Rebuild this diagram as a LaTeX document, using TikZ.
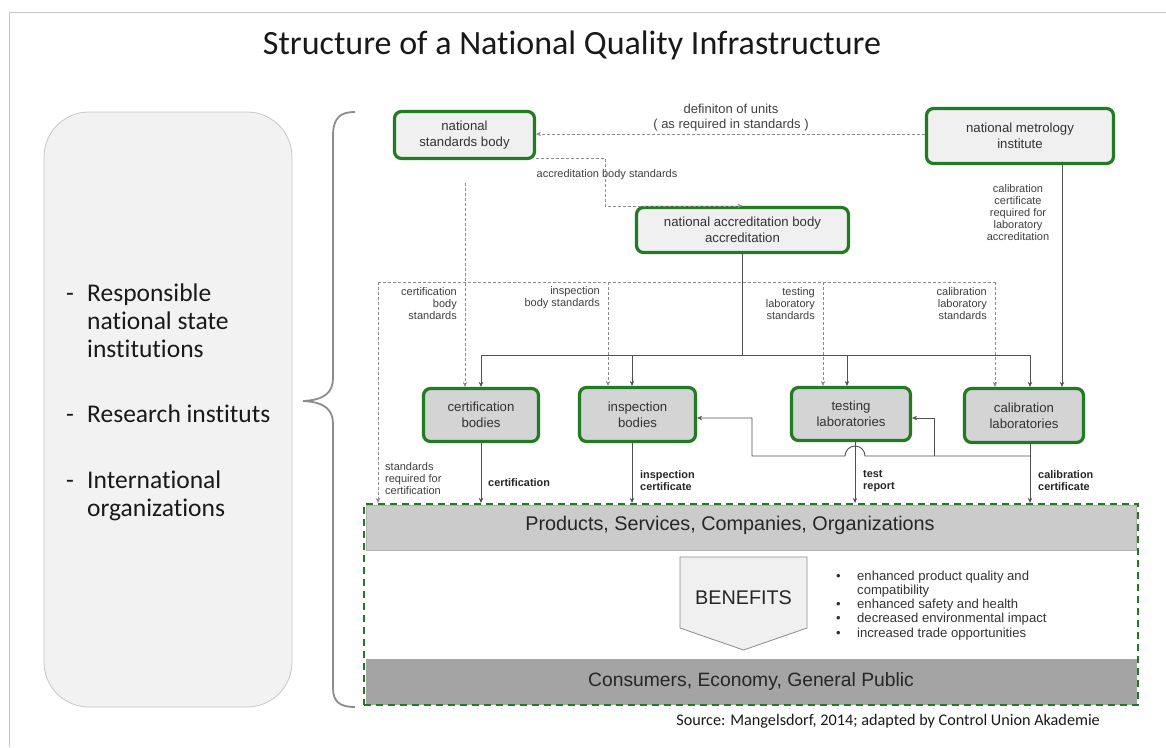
\documentclass[tikz,border=0pt]{standalone}
\usepackage{fontspec}
\setmainfont{Liberation Sans}
\newfontfamily\carl[Ligatures=NoCommon]{Carlito}
\usetikzlibrary{arrows.meta,calc}
\definecolor{qgreen}{RGB}{34,122,34}
\definecolor{lightfill}{RGB}{240,240,240}
\definecolor{darkfill}{RGB}{212,212,212}
\definecolor{bandA}{RGB}{203,203,203}
\definecolor{bandB}{RGB}{164,164,164}
\definecolor{lineg}{RGB}{80,80,80}
\definecolor{dashg}{RGB}{140,140,140}
\begin{document}
\begin{tikzpicture}[x=1pt,y=-1pt,
 inst/.style={draw=qgreen, line width=3.2pt, rounded corners=7pt, align=center, font=\fontsize{13.2}{16}\selectfont, text=black!80, inner sep=0pt},
 topbox/.style={inst, fill=lightfill},
 lowbox/.style={inst, fill=darkfill},
 sline/.style={draw=lineg, line width=0.9pt},
 dline/.style={draw=dashg, line width=0.8pt, dash pattern=on 3pt off 2pt},
 tip/.style={-{Stealth[length=5pt,width=4.5pt]}},
 small/.style={font=\fontsize{11}{12}\selectfont, text=black!75, inner sep=0pt},
 smallb/.style={font=\bfseries\fontsize{10.9}{12}\selectfont, text=black!85, inner sep=0pt, align=left, anchor=west},
 lefttxt/.style={font=\carl\fontsize{25.5}{28}\selectfont, align=left, anchor=west, inner sep=0pt, text=black!90},
]
\useasboundingbox (0,0) rectangle (1166,747);
\fill[white] (0,0) rectangle (1166,747);
% frame
\draw[black!22, line width=1pt] (9,747) -- (9,12) -- (1166,12);

% title
\node[font=\carl\fontsize{34}{38}\selectfont, text=black!90] (title) at (572,45) {Structure of a National Quality Infrastructure};

% left panel
\node[draw=black!22, fill=black!5, rounded corners=45pt, minimum width=248pt, minimum height=595pt, line width=0.8pt] (panel) at (168,409.5) {};
\node[lefttxt] (l1) at (66,321) {\makebox[21pt][l]{-}Responsible\\\hspace*{21pt}national state\\\hspace*{21pt}institutions};
\node[lefttxt] (l2) at (66,414) {\makebox[21pt][l]{-}Research instituts};
\node[lefttxt] (l3) at (66,496) {\makebox[21pt][l]{-}International\\\hspace*{21pt}organizations};

% brace
\draw[black!45, line width=1.8pt] (355,112) .. controls (340,112) and (333,118) .. (333,136) -- (333,378) .. controls (333,392) and (325,400) .. (303,401) .. controls (325,402) and (333,410) .. (333,424) -- (333,688) .. controls (333,702) and (340,707) .. (355,707);

% institution nodes
\node[topbox, minimum width=140pt, minimum height=47pt] (nsb) at (464.5,135) {national\\standards body};
\node[topbox, minimum width=187pt, minimum height=55pt] (nmi) at (1020,136) {national metrology\\institute};
\node[topbox, minimum width=212pt, minimum height=45pt] (nab) at (742.5,230) {national accreditation body\\accreditation};
\node[lowbox, minimum width=115pt, minimum height=53pt] (cb) at (481,415) {certification\\bodies};
\node[lowbox, minimum width=116pt, minimum height=54pt] (ib) at (637.5,414.5) {inspection\\bodies};
\node[lowbox, minimum width=119pt, minimum height=53pt] (tl) at (851,414) {testing\\laboratories};
\node[lowbox, minimum width=119pt, minimum height=54pt] (cl) at (1024,415.5) {calibration\\laboratories};

% bottom area
\node[fill=bandA, draw=black!30, line width=0.5pt, minimum width=770pt, minimum height=45pt, inner sep=0pt] (prod) at (751,527.5) {};
\node[font=\fontsize{19.8}{22}\selectfont, text=black!85] (prodtxt) at (730,525) {Products, Services, Companies, Organizations};
\node[fill=bandB, draw=black!35, line width=0.5pt, minimum width=770pt, minimum height=45pt, inner sep=0pt, font=\fontsize{19.3}{22}\selectfont, text=black!85] (cons) at (751,681.5) {Consumers, Economy, General Public};
\draw[draw=black!45, fill=lightfill, line width=0.8pt] (680,557) -- (807,557) -- (807,628) -- (743.5,650) -- (680,628) -- cycle;
\node[font=\fontsize{19.8}{22}\selectfont, text=black!85] (ben) at (743.5,598) {BENEFITS};
\node[font=\fontsize{13.1}{14.2}\selectfont, align=left, anchor=north west, inner sep=0pt, text=black!80] (bul) at (836,570.5) {\makebox[21pt][l]{\textbullet}enhanced product quality and\\\hspace*{21pt}compatibility\\\makebox[21pt][l]{\textbullet}enhanced safety and health\\\makebox[21pt][l]{\textbullet}decreased environmental impact\\\makebox[21pt][l]{\textbullet}increased trade opportunities};
\node[draw=qgreen, line width=2.2pt, dash pattern=on 7pt off 5pt, minimum width=774pt, minimum height=201pt, inner sep=0pt] (frame) at (751,604.5) {};

% source
\node[font=\carl\fontsize{16.2}{18}\selectfont, anchor=east, inner sep=0pt, text=black!90] (src) at (1100,721) {Source: Mangelsdorf, 2014; adapted by Control Union Akademie};

% definition of units
\coordinate (u0) at ([yshift=2pt]nmi.west);
\draw[dline,tip] (u0) -- (u0 -| nsb.east);
\node[small, align=center, font=\fontsize{13}{15}\selectfont] (unitslbl) at (731,117.5) {definiton of units\\( as required in standards )};

% accreditation body standards
\coordinate (a0) at ([yshift=2pt]nsb.south east);
\coordinate (a1) at (605,190);
\draw[dline,tip] (a0) -| (a1) |- (nab.north);
\node[small] (ablbl) at (607,175) {accreditation body standards};

% dashed standards grid
\coordinate (dl) at (378,282);
\coordinate (dr) at (995,282);
\coordinate (s1) at (465,183);
\coordinate (d2) at (608,282);
\coordinate (d3) at (823,282);
\draw[dline] (dl) -- (dr);
\draw[dline,tip] (dl) -- (dl |- frame.north);
\draw[dline,tip] (s1) -- (s1 |- cb.north);
\draw[dline,tip] (d2) -- (d2 |- ib.north);
\draw[dline,tip] (d3) -- (d3 |- tl.north);
\draw[dline,tip] (dr) -- (dr |- cl.north);
\node[small, align=right, anchor=east] (cbs) at (457,304) {certification\\body\\standards};
\node[small, align=right, anchor=east] (ibs) at (600,298) {inspection\\body standards};
\node[small, align=right, anchor=east] (tls) at (815,304) {testing\\laboratory\\standards};
\node[small, align=right, anchor=east] (cls) at (987,304) {calibration\\laboratory\\standards};
\node[small, align=center] (ccr) at (1018,213) {calibration\\certificate\\required for\\laboratory\\accreditation};
\node[small, align=left, anchor=west] (src4) at (385,479) {standards\\required for\\certification};

% accreditation tree
\coordinate (hy) at (0,355);
\coordinate (h1) at (481,355);
\coordinate (h2) at (632,355);
\coordinate (h3) at (847,355);
\coordinate (h4) at (1030,355);
\draw[sline] (nab.south) -- (nab.south |- hy);
\draw[sline] (h1) -- (h4);
\draw[sline,tip] (h1) -- (h1 |- cb.north);
\draw[sline,tip] (h2) -- (h2 |- ib.north);
\draw[sline,tip] (h3) -- (h3 |- tl.north);
\draw[sline,tip] (h4) -- (h4 |- cl.north);

% metrology to calibration labs
\coordinate (m1) at ([xshift=42pt]nmi.south);
\draw[sline,tip] (m1) -- (m1 |- cl.north);

% outputs
\coordinate (o3) at ([xshift=4pt]tl.south);
\draw[sline,tip] (cb.south) -- (cb.south |- frame.north);
\draw[sline,tip] (h2 |- ib.south) -- (h2 |- frame.north);
\draw[sline,tip] (o3) -- (o3 |- frame.north);
\draw[sline,tip] (h4 |- cl.south) -- (h4 |- frame.north);
\node[smallb] (lc) at (488,483) {certification};
\node[smallb] (li) at (640,481) {inspection\\certificate};
\node[smallb] (lt) at (863,481) {test\\report};
\node[smallb] (lk) at (1038,481) {calibration\\certificate};

% feedback from calibration laboratories
\coordinate (f0) at (1030,456);
\coordinate (f1) at (752,418);
\coordinate (f2) at (934,456);
\coordinate (f3) at (934,418);
\coordinate (j0) at (o3 |- f0);
\draw[sline,tip] (f0) -- ([xshift=10pt]j0) arc[start angle=0, end angle=180, radius=10pt] -- (f1 |- f0) -- (f1) -- (f1 -| ib.east);
\draw[sline,tip] (f2) -- (f3) -- (f3 -| tl.east);
\end{tikzpicture}
\end{document}
